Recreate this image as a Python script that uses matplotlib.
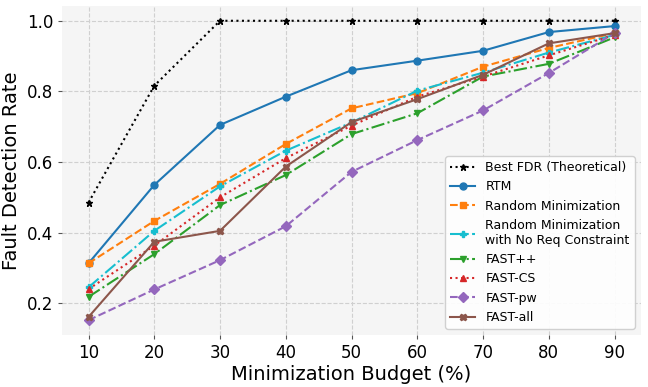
import matplotlib
matplotlib.use("Agg")
import matplotlib.pyplot as plt

budgets = [10, 20, 30, 40, 50, 60, 70, 80, 90]

best_fdr = [0.485, 0.816, 1.0, 1.0, 1.0, 1.0, 1.0, 1.0, 1.0]
rtm = [0.313, 0.535, 0.705, 0.785, 0.860, 0.887, 0.915, 0.968, 0.985]
random_min = [0.313, 0.433, 0.538, 0.651, 0.752, 0.795, 0.870, 0.923, 0.965]
random_noreq = [0.245, 0.405, 0.531, 0.632, 0.712, 0.802, 0.853, 0.910, 0.960]
fast_pp = [0.218, 0.339, 0.478, 0.563, 0.679, 0.738, 0.842, 0.878, 0.953]
fast_cs = [0.240, 0.363, 0.500, 0.611, 0.703, 0.785, 0.842, 0.902, 0.960]
fast_pw = [0.152, 0.239, 0.322, 0.418, 0.572, 0.662, 0.746, 0.852, 0.965]
fast_all = [0.161, 0.374, 0.405, 0.587, 0.713, 0.778, 0.847, 0.936, 0.965]

series = [
    ("Best FDR (Theoretical)", best_fdr, "black", ":", "*"),
    ("RTM", rtm, "tab:blue", "-", "o"),
    ("Random Minimization", random_min, "tab:orange", "--", "s"),
    ("Random Minimization\nwith No Req Constraint", random_noreq, "tab:cyan", "-.", "P"),
    ("FAST++", fast_pp, "tab:green", "-.", "v"),
    ("FAST-CS", fast_cs, "tab:red", ":", "^"),
    ("FAST-pw", fast_pw, "tab:purple", "--", "D"),
    ("FAST-all", fast_all, "tab:brown", "-", "X"),
]

fig, ax = plt.subplots(figsize=(6.48, 3.87), dpi=100)
fig.subplots_adjust(left=0.096, right=0.989, top=0.985, bottom=0.134)

for label, vals, color, ls, marker in series:
    ax.plot(budgets, vals, color=color, linestyle=ls, marker=marker,
            markersize=5, linewidth=1.5, label=label)

ax.set_facecolor("#f5f5f5")
for s in ax.spines.values():
    s.set_visible(False)
ax.grid(True, linestyle="--", color="#d0d0d0", linewidth=0.8)
ax.set_axisbelow(True)
ax.tick_params(labelsize=12, color="#555555", length=3)
ax.set_xticks(budgets)
ax.set_yticks([0.2, 0.4, 0.6, 0.8, 1.0])
ax.set_xlabel("Minimization Budget (%)", fontsize=14, labelpad=2)
ax.set_ylabel("Fault Detection Rate", fontsize=14)
ax.legend(loc="lower right", fontsize=9, framealpha=0.9)

plt.savefig("out.png", dpi=100)
plt.close()
